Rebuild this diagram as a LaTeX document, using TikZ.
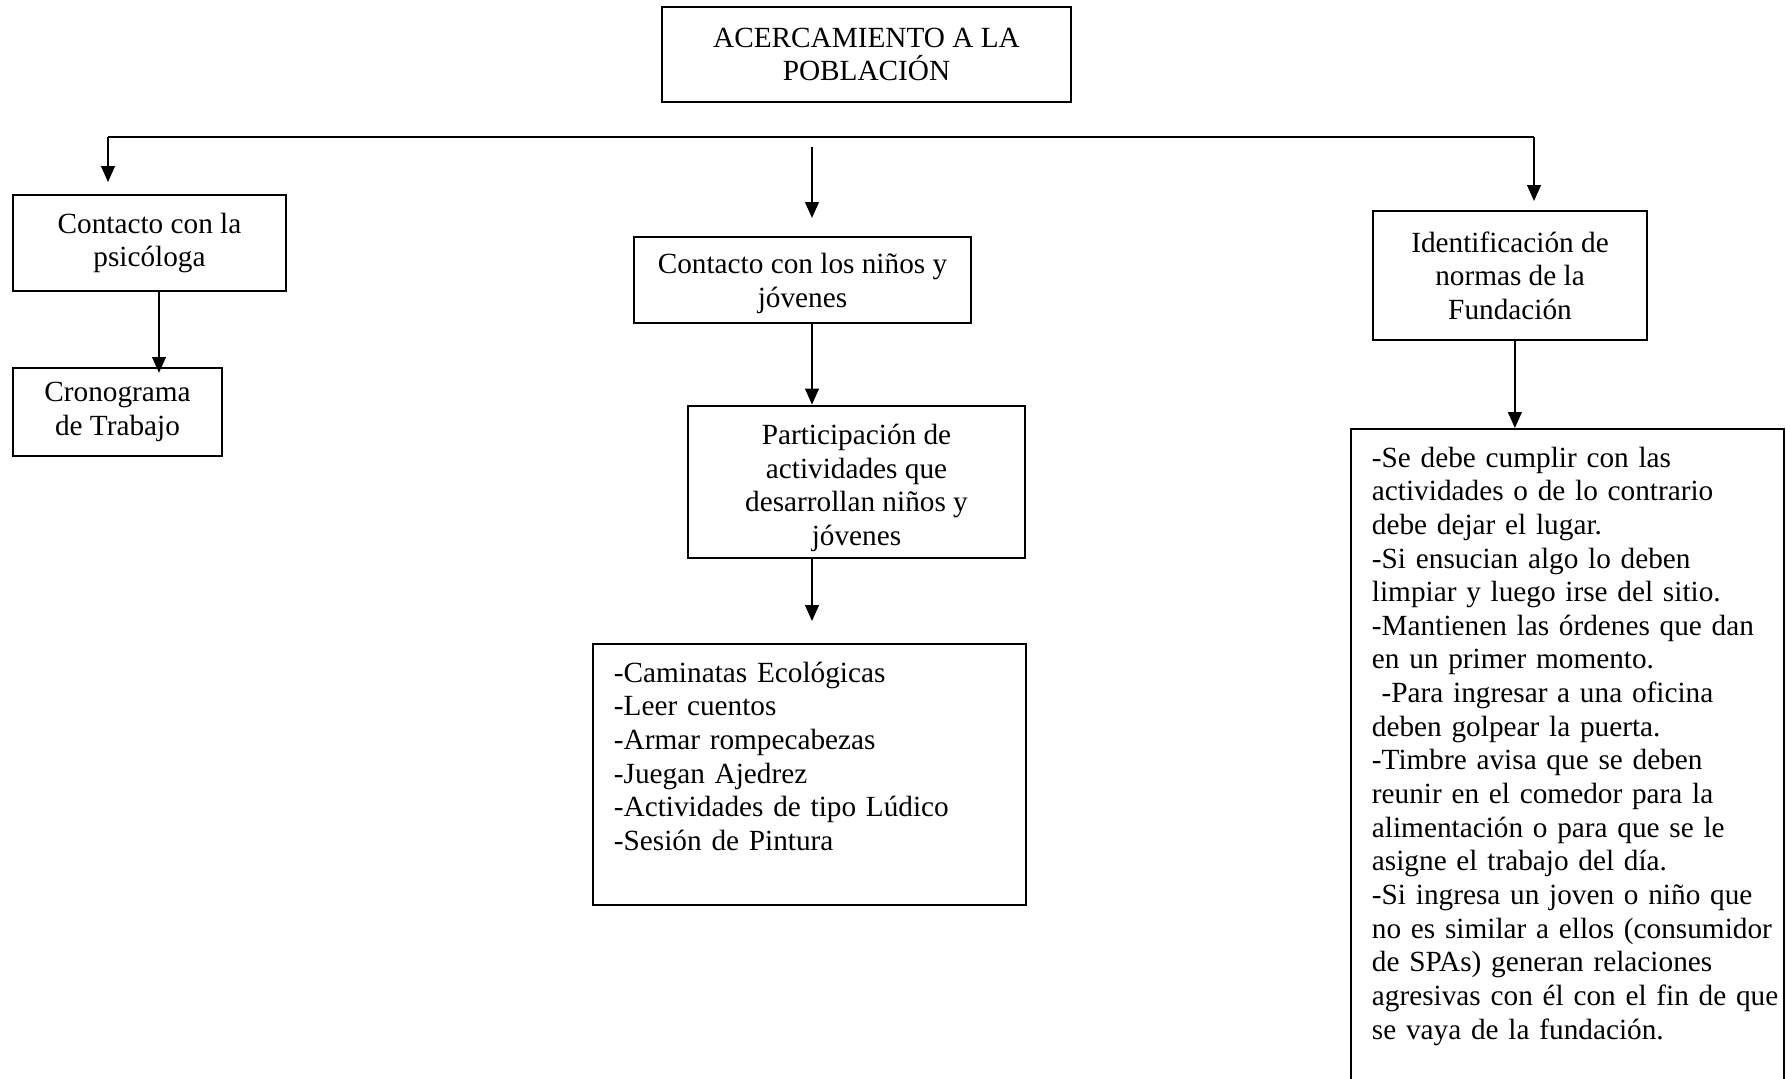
\documentclass[tikz,border=0pt]{standalone}
\usepackage{fontspec}
\setmainfont{Liberation Serif}
\usetikzlibrary{arrows.meta}

\tikzset{
	caja/.style = {draw, line width = 0.8pt, align = center, inner sep = 2pt, font = \fontsize{12}{13.8}\selectfont},
	lista/.style = {draw, line width = 0.8pt, anchor = north west, align = left, text width = 160.3pt, inner xsep = 8.6pt, inner ysep = 0pt, text height = 15.6pt, font = \fontsize{12}{13.8}\selectfont, execute at begin node = {\rightskip = -12pt plus 1fil}},
	flecha/.style = {line width = 0.8pt, -{Triangle[length = 6.5pt, width = 5.6pt]}}
}

\begin{document}
\begin{tikzpicture}[x = 0.41pt, y = -0.41pt]
	\useasboundingbox (0,0) rectangle (1786,1079);
	\clip (0,0) rectangle (1786,1079);
	\node[caja, minimum width = 167.7pt, minimum height = 39pt] (titulo) at (866.5, 54.5) {ACERCAMIENTO A LA\\POBLACIÓN};
	\node[caja, minimum width = 111.9pt, minimum height = 39.4pt] (psicologa) at (149.5, 243) {Contacto con la\\psicóloga};
	\node[caja, minimum width = 85.7pt, minimum height = 36.1pt] (cronograma) at (117.5, 412) {Cronograma\\de Trabajo};
	\node[caja, minimum width = 138.2pt, minimum height = 35.3pt] (ninos) at (802.5, 280) {\rule{0pt}{11pt}Contacto con los niños y\\jóvenes};
	\node[caja, minimum width = 138.2pt, minimum height = 62.5pt] (participacion) at (856.5, 481.75) {\rule{0pt}{13.5pt}Participación de\\actividades que\\desarrollan niños y\\jóvenes};
	\node[caja, minimum width = 112.3pt, minimum height = 52.9pt] (ident) at (1510, 275.5) {Identificación de\\normas de la\\Fundación};
	\node[lista, text depth = 91.4pt] (actividades) at (592, 643) {-Caminatas Ecológicas\\-Leer cuentos\\-Armar rompecabezas\\-Juegan Ajedrez\\-Actividades de tipo Lúdico\\-Sesión de Pintura};
	\node[lista, text depth = 260pt] (normas) at (1350, 428) {-Se debe cumplir con las\\actividades o de lo contrario\\debe dejar el lugar.\\-Si ensucian algo lo deben\\limpiar y luego irse del sitio.\\-Mantienen las órdenes que dan\\en un primer momento.\\~-Para ingresar a una oficina\\deben golpear la puerta.\\-Timbre avisa que se deben\\reunir en el comedor para la\\alimentación o para que se le\\asigne el trabajo del día.\\-Si ingresa un joven o niño que\\no es similar a ellos (consumidor\\de SPAs) generan relaciones\\agresivas con él con el fin de que\\se vaya de la fundación.};
	\coordinate (barL) at (108, 137);
	\coordinate (barR) at (1534, 137);
	\coordinate (col) at (812, 147);
	\coordinate (colPs) at (159, 291);
	\draw[line width = 0.8pt] (barL) -- (barR);
	\draw[flecha, shorten > = 4.9pt] (barL) -- (barL |- psicologa.north);
	\draw[flecha, shorten > = 3.7pt] (barR) -- (barR |- ident.north);
	\draw[flecha, shorten > = 7.4pt] (col) -- (col |- ninos.north);
	\draw[flecha] (col |- ninos.south) -- (col |- participacion.north);
	\draw[flecha, shorten > = 9pt] (col |- participacion.south) -- (col |- actividades.north);
	\draw[flecha, shorten > = -2.4pt] (colPs |- psicologa.south) -- (colPs |- cronograma.north);
	\draw[flecha] ([xshift = 2pt]ident.south) -- ([xshift = 2pt]ident.south |- normas.north);
\end{tikzpicture}
\end{document}
